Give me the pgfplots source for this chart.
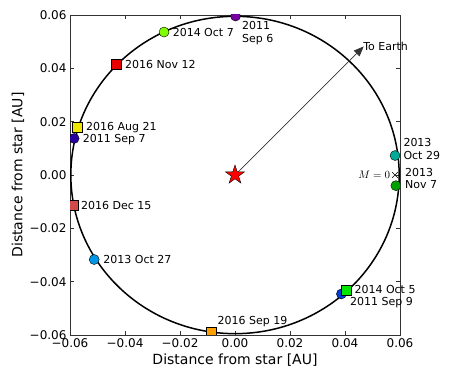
\documentclass[border=0pt]{standalone}
\usepackage{pgfplots}
\pgfplotsset{compat=1.18}
\usepackage{fontspec}
\setmainfont{DejaVu Sans}
\usetikzlibrary{arrows.meta}

\definecolor{cpurple}{RGB}{120,0,160}
\definecolor{clime}{RGB}{128,255,0}
\definecolor{cred}{RGB}{230,0,0}
\definecolor{cyellow}{RGB}{240,230,0}
\definecolor{cindigo}{RGB}{40,0,160}
\definecolor{cindian}{RGB}{210,75,75}
\definecolor{clblue}{RGB}{0,150,230}
\definecolor{corange}{RGB}{255,160,0}
\definecolor{cgreensq}{RGB}{0,230,0}
\definecolor{cblue}{RGB}{0,60,220}
\definecolor{cteal}{RGB}{0,170,150}
\definecolor{cgreen}{RGB}{0,160,0}

\tikzset{lab/.style={anchor=west, inner sep=0pt, text height=8bp, text depth=0pt, font=\fontsize{11bp}{13bp}\selectfont}}

\pgfdeclareplotmark{fstar}{%
  \pgfpathmoveto{\pgfpointpolar{90}{\pgfplotmarksize}}%
  \pgfpathlineto{\pgfpointpolar{126}{0.382\pgfplotmarksize}}%
  \pgfpathlineto{\pgfpointpolar{162}{\pgfplotmarksize}}%
  \pgfpathlineto{\pgfpointpolar{198}{0.382\pgfplotmarksize}}%
  \pgfpathlineto{\pgfpointpolar{234}{\pgfplotmarksize}}%
  \pgfpathlineto{\pgfpointpolar{270}{0.382\pgfplotmarksize}}%
  \pgfpathlineto{\pgfpointpolar{306}{\pgfplotmarksize}}%
  \pgfpathlineto{\pgfpointpolar{342}{0.382\pgfplotmarksize}}%
  \pgfpathlineto{\pgfpointpolar{18}{\pgfplotmarksize}}%
  \pgfpathlineto{\pgfpointpolar{54}{0.382\pgfplotmarksize}}%
  \pgfpathclose
  \pgfusepathqfillstroke
}

\begin{document}
\begin{tikzpicture}
\path[use as bounding box] (0,0) rectangle (460bp,377bp);
\begin{axis}[
  at={(70bp,42bp)}, anchor=south west,
  width=330bp, height=320bp, scale only axis,
  xmin=-0.06, xmax=0.06, ymin=-0.06, ymax=0.06,
  scaled ticks=false,
  xtick={-0.06,-0.04,-0.02,0,0.02,0.04,0.06},
  ytick={-0.06,-0.04,-0.02,0,0.02,0.04,0.06},
  xticklabels={−0.06,−0.04,−0.02,0.00,0.02,0.04,0.06},
  yticklabels={−0.06,−0.04,−0.02,0.00,0.02,0.04,0.06},
  tick align=inside,
  major tick length=4bp,
  axis line style={black!80, line width=0.8bp},
  tick style={black!80, line width=0.6bp},
  ticklabel style={font=\fontsize{12bp}{14bp}\selectfont},
  label style={font=\fontsize{14bp}{16bp}\selectfont},
  xlabel={Distance from star [AU]},
  ylabel={Distance from star [AU]},
  xlabel style={at={(axis description cs:0.5,-0.080)}, anchor=center},
  ylabel style={at={(axis description cs:-0.158,0.5)}, anchor=center},
  clip mode=individual,
  clip marker paths=true,
  circ/.style={only marks, mark=*, mark size=5bp, mark options={draw=black, line width=0.4bp, fill=#1}},
  sq/.style={only marks, mark=square*, mark size=5bp, mark options={draw=black, line width=0.4bp, fill=#1}},
]
\draw[black, line width=1.5bp] (axis cs:0,0) ellipse [x radius=0.0597, y radius=0.0595];

\addplot[-{Triangle[length=10bp,width=8bp]}, black!80, line width=0.7bp] coordinates {(0,0) (0.0468,0.0482)};

\addplot[circ=cpurple] coordinates {(0.0002,0.0596)};
\addplot[circ=clime] coordinates {(-0.0258,0.0536)};
\addplot[circ=cindigo] coordinates {(-0.0585,0.0137)};
\addplot[circ=clblue] coordinates {(-0.0512,-0.0317)};
\addplot[circ=cblue] coordinates {(0.0387,-0.0446)};
\addplot[circ=cteal] coordinates {(0.0582,0.0073)};
\addplot[circ=cgreen] coordinates {(0.0585,-0.0040)};
\addplot[sq=cred] coordinates {(-0.0433,0.0416)};
\addplot[sq=cyellow] coordinates {(-0.0574,0.0181)};
\addplot[sq=cindian] coordinates {(-0.0587,-0.0114)};
\addplot[sq=corange] coordinates {(-0.0087,-0.0588)};
\addplot[sq=cgreensq] coordinates {(0.0404,-0.0431)};
\addplot[only marks, mark=x, mark size=4bp, black, line width=0.5bp] coordinates {(0.0582,0)};
\addplot[only marks, mark=fstar, mark size=10bp, mark options={fill=red, draw=black, line width=0.4bp}] coordinates {(0,0)};

\node[lab] at (axis cs:0.0025,0.0559) {2011};
\node[lab] at (axis cs:0.0025,0.0510) {Sep 6};
\node[lab] at (axis cs:-0.0227,0.0536) {2014 Oct 7};
\node[lab] at (axis cs:-0.0400,0.0416) {2016 Nov 12};
\node[lab] at (axis cs:-0.0542,0.0182) {2016 Aug 21};
\node[lab] at (axis cs:-0.0554,0.0138) {2011 Sep 7};
\node[lab] at (axis cs:-0.0560,-0.0114) {2016 Dec 15};
\node[lab] at (axis cs:-0.0479,-0.0317) {2013 Oct 27};
\node[lab] at (axis cs:-0.0064,-0.0546) {2016 Sep 19};
\node[lab] at (axis cs:0.0434,-0.0431) {2014 Oct 5};
\node[lab] at (axis cs:0.0418,-0.0475) {2011 Sep 9};
\node[lab] at (axis cs:0.0612,0.0121) {2013};
\node[lab] at (axis cs:0.0612,0.0074) {Oct 29};
\node[lab] at (axis cs:0.0618,0.0008) {2013};
\node[lab] at (axis cs:0.0618,-0.0037) {Nov 7};
\node[lab] at (axis cs:0.0466,0.0482) {To Earth};
\node[anchor=east, inner sep=0pt, font=\fontsize{11bp}{13bp}\selectfont] at (axis cs:0.0565,0) {$M = 0$};
\end{axis}
\end{tikzpicture}
\end{document}
